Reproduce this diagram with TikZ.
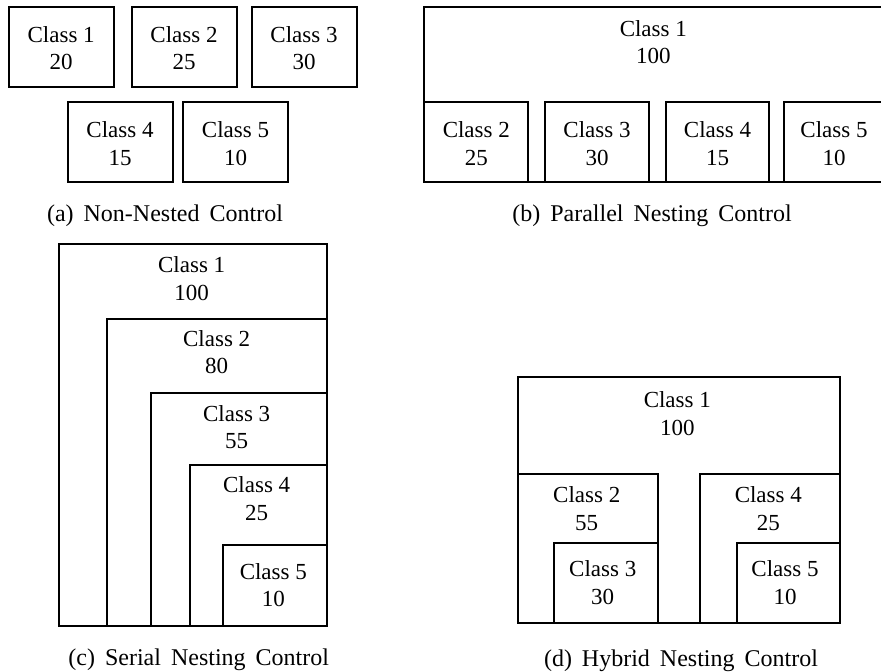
\documentclass[tikz,border=0pt]{standalone}
\usepackage{fontspec}
\setmainfont{Liberation Serif}
\newcommand{\wideword}{\spaceskip=10pt\relax}
\begin{document}
\begin{tikzpicture}[x=1pt,y=-1pt,
  box/.style={draw=black, line width=2pt},
  lbl/.style={font=\fontsize{23}{27.3}\selectfont, align=center, anchor=north, inner sep=0pt},
  caption/.style={font=\fontsize{24}{28}\selectfont\wideword, anchor=base, inner sep=0pt}]
\useasboundingbox (0,0) rectangle (881,672);
\fill[white] (0,0) rectangle (881,672);
\clip (0,0) rectangle (881,672);

% (a) non-nested: five separate classes
\draw[box] (9.3,6.7) rectangle (114.3,86.7);
\draw[box] (131.7,6.7) rectangle (236.7,86.7);
\draw[box] (251.7,6.7) rectangle (356.7,86.7);
\draw[box] (67.7,101.7) rectangle (172.7,181.7);
\draw[box] (183.3,101.7) rectangle (288.3,181.7);
\node[lbl] (a1) at (61.2,26) {Class 1\\20};
\node[lbl] (a2) at (184,26) {Class 2\\25};
\node[lbl] (a3) at (304,26) {Class 3\\30};
\node[lbl] (a4) at (120,121.7) {Class 4\\15};
\node[lbl] (a5) at (235.5,121.7) {Class 5\\10};
\node[caption] (capa) at (165,221.7) {(a) Non-Nested Control};

% (b) parallel nesting: four children inside class 1
\draw[box] (424.3,6.7) rectangle (886,181.7);
\draw[box] (424.3,101.7) rectangle (528.3,181.7);
\draw[box] (545,101.7) rectangle (649,181.7);
\draw[box] (665.7,101.7) rectangle (769.3,181.7);
\draw[box] (784,101.7) rectangle (887.5,181.7);
\node[lbl] (b1) at (653.3,20) {Class 1\\100};
\node[lbl] (b2) at (476.3,121.7) {Class 2\\25};
\node[lbl] (b3) at (597,121.7) {Class 3\\30};
\node[lbl] (b4) at (717.5,121.7) {Class 4\\15};
\node[lbl] (b5) at (834,121.7) {Class 5\\10};
\node[caption] (capb) at (652,221.7) {(b) Parallel Nesting Control};

% (c) serial nesting: each class inside the previous one
\draw[box] (59.3,244) rectangle (326.7,625.7);
\draw[box] (106.7,319) rectangle (326.7,625.7);
\draw[box] (151,392.7) rectangle (326.7,625.7);
\draw[box] (190,465.3) rectangle (326.7,625.7);
\draw[box] (223.3,545) rectangle (326.7,625.7);
\node[lbl] (c1) at (191.7,256.7) {Class 1\\100};
\node[lbl] (c2) at (216.7,330) {Class 2\\80};
\node[lbl] (c3) at (236.7,405) {Class 3\\55};
\node[lbl] (c4) at (256.7,476.7) {Class 4\\25};
\node[lbl] (c5) at (273.3,563.3) {Class 5\\10};
\node[caption] (capc) at (198.7,665) {(c) Serial Nesting Control};

% (d) hybrid nesting: two serial chains inside class 1
\draw[box] (517.7,377.3) rectangle (840,622.7);
\draw[box] (517.7,474) rectangle (657.7,622.7);
\draw[box] (554.3,542.7) rectangle (657.7,622.7);
\draw[box] (700.3,474) rectangle (840,622.7);
\draw[box] (736.7,542.7) rectangle (840,622.7);
\node[lbl] (d1) at (677.3,391.7) {Class 1\\100};
\node[lbl] (d2) at (586.7,486.7) {Class 2\\55};
\node[lbl] (d3) at (602.7,560.7) {Class 3\\30};
\node[lbl] (d4) at (768.3,486.7) {Class 4\\25};
\node[lbl] (d5) at (785,560.7) {Class 5\\10};
\node[caption] (capd) at (681,666) {(d) Hybrid Nesting Control};
\end{tikzpicture}
\end{document}
